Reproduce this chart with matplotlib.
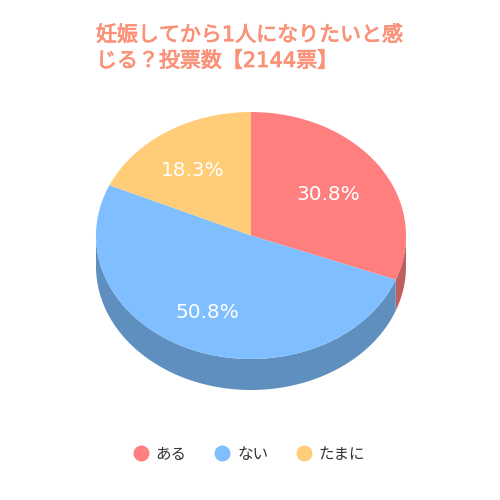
import matplotlib
matplotlib.use("Agg")
import matplotlib.pyplot as plt
import matplotlib.patheffects as pe
from matplotlib.lines import Line2D
import numpy as np

CJK = ['DejaVu Sans', 'Noto Sans CJK JP']
plt.rcParams['font.family'] = CJK

categories = ['ある', 'ない', 'たまに']
values = [30.8, 50.8, 18.3]
title_lines = ['妊娠してから1人になりたいと感', 'じる？投票数【2144票】']
colors = ['#FF7F7F', '#7FBFFF', '#FFCC77']
side_colors = ['#BF5F5F', '#5F8FBF', '#BF9959']
label_dist = [0.605, 0.67, 0.65]
label_shift_px = [(0, 1.5), (-4, 1), (-4, 2.5)]

W = H = 500
cx, cy, rx, ry, depth = 251.0, 235.5, 155.0, 123.5, 31.0
d = depth / ry

fig = plt.figure(figsize=(5, 5), dpi=100, facecolor='white')
ax = fig.add_axes([0, 0, 1, 1])

# cumulative clockwise angles from 12 o'clock
frac = np.array(values) / np.sum(values)
ends = np.cumsum(frac) * 2 * np.pi
starts = ends - frac * 2 * np.pi

# extruded side wall, only where the rim faces the viewer
for s, e, c in zip(starts, ends, side_colors):
    lo, hi = max(s, np.pi / 2), min(e, 3 * np.pi / 2)
    if hi <= lo:
        continue
    t = np.linspace(lo, hi, 200)
    x, y = np.sin(t), np.cos(t)
    ax.fill(np.r_[x, x[::-1]], np.r_[y, y[::-1] - d], color=c, lw=0, zorder=1)

wedges, _ = ax.pie(values, colors=colors, startangle=90, counterclock=False,
                   wedgeprops=dict(lw=0, zorder=2))
for w in wedges:
    w.set_zorder(2)

ax.set_aspect('auto')
ax.set_xlim((0 - cx) / rx, (W - cx) / rx)
ax.set_ylim((cy - H) / ry, cy / ry)
ax.axis('off')

# percentage labels
for s, e, v, r, (sx, sy) in zip(starts, ends, values, label_dist, label_shift_px):
    m = (s + e) / 2
    ax.text(r * np.sin(m) + sx / rx, r * np.cos(m) - sy / ry, f'{v:.1f}%', color='white',
            fontsize=14.4, ha='center', va='center', zorder=3)

# title
for line, py in zip(title_lines, [35, 61]):
    fig.text(96 / W, 1 - py / H, line, color='#FA9278', fontsize=15.1,
             ha='left', va='center', family=CJK,
             path_effects=[pe.withStroke(linewidth=0.6, foreground='#FA9278')])

# legend
handles = [Line2D([], [], ls='', marker='o', ms=11.5, mfc=c, mec='none') for c in colors]
leg = fig.legend(handles, categories, ncols=3, loc='center',
                 bbox_to_anchor=(249 / W, 1 - 454 / H), frameon=False,
                 fontsize=11.2, labelcolor='#333333', handletextpad=0.45,
                 columnspacing=1.8, handlelength=1.0)

fig.savefig('out.png', dpi=100, facecolor='white')
